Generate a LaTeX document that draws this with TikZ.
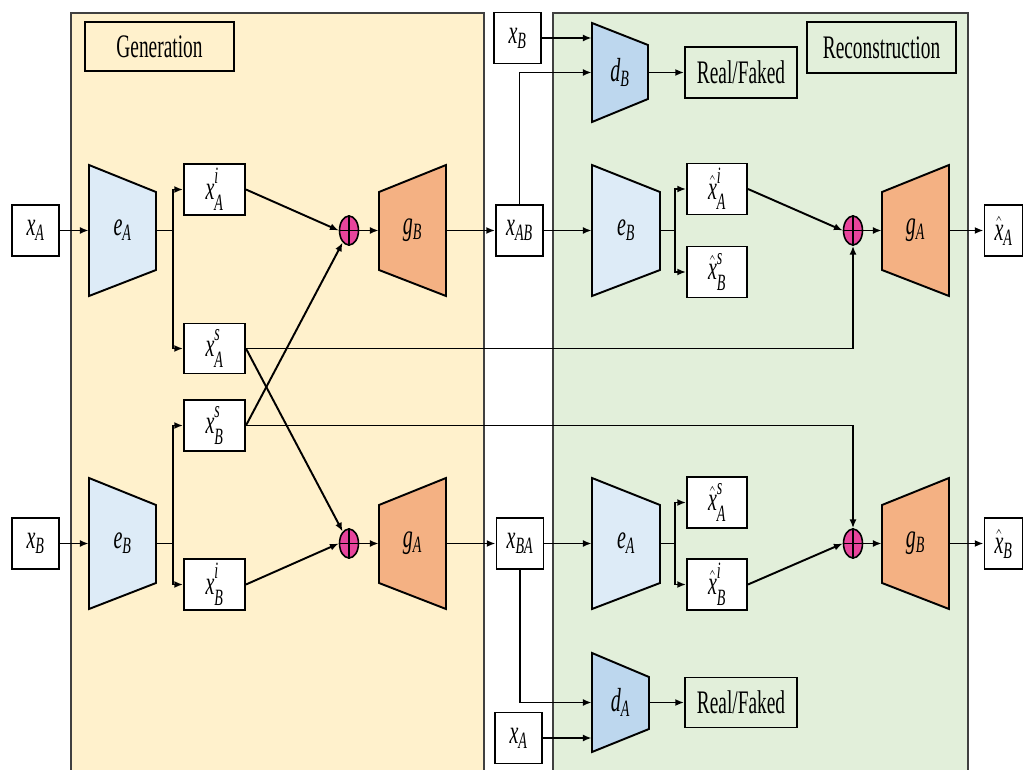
\RequirePackage{fix-cm}
\documentclass[tikz,border=0pt]{standalone}
\usepackage{graphicx}
\usepackage{fontspec}
\setmainfont{Liberation Serif}
\usetikzlibrary{arrows.meta,shapes.geometric,calc}
\newlength\pxl \setlength\pxl{0.02cm}
\newcommand\tx[1]{\scalebox{0.59}[1]{\fontsize{18.7}{20}\selectfont #1}}
\newcommand\mx[1]{\scalebox{0.6}[1]{\fontsize{19}{20}\selectfont $#1$}}
\newcommand\mi[1]{\mathit{#1}}
\newcommand\mysupsub[3]{#1^{\raisebox{2pt}{$\scriptstyle\mi{#2}$}}_{\raisebox{-1.5pt}{$\scriptstyle\mi{#3}$}}}
\definecolor{genc}{HTML}{FFF1CC}
\definecolor{recc}{HTML}{E2EFDA}
\definecolor{encc}{HTML}{DDEBF7}
\definecolor{disc}{HTML}{BDD7EE}
\definecolor{genb}{HTML}{F4B183}
\definecolor{pinkc}{HTML}{E8449C}
\begin{document}
\begin{tikzpicture}[x=0.02cm,y=-0.02cm,
  box/.style={draw, line width=1.1pt, fill=white, inner sep=0pt},
  tbox/.style={draw, line width=1.1pt, inner sep=0pt},
  sw/.style={minimum width=47\pxl, minimum height=51\pxl},
  mw/.style={minimum width=61\pxl, minimum height=51\pxl},
  lbl/.style={inner sep=0pt},
  trap/.style={draw, line width=1.1pt, line join=miter},
  con/.style={line width=1.1pt},
  arr/.style={con, -{Latex[length=5pt,width=4pt]}},
  opl/.style={ellipse, draw, line width=0.9pt, fill=pinkc, minimum width=19\pxl, minimum height=29\pxl, inner sep=0pt},
  panel/.style={draw=black!75, line width=1pt}
]
\clip (0,0) rectangle (1025,770);
\fill[white] (0,0) rectangle (1025,770);
% panels
\draw[panel, fill=genc] (71,13) rectangle (484,790);
\draw[panel, fill=recc] (553,13) rectangle (968,790);
\node[tbox, minimum width=149\pxl, minimum height=49\pxl] (gen) at (159.5,46.5) {\tx{Generation}};
\node[tbox, minimum width=149\pxl, minimum height=51\pxl] (rec) at (881.5,47.5) {\tx{Reconstruction}};
% trapezoids
\filldraw[trap, fill=encc] (89,165) -- (156,192) -- (156,270) -- (89,296) -- cycle;
\node[lbl, minimum width=67\pxl, minimum height=131\pxl] (eA) at (122.5,230.5) {\mx{\mi{e}_{\mi{A}}}};
\filldraw[trap, fill=encc] (89,478) -- (156,505) -- (156,583) -- (89,609) -- cycle;
\node[lbl, minimum width=67\pxl, minimum height=131\pxl] (eB) at (122.5,543.5) {\mx{\mi{e}_{\mi{B}}}};
\filldraw[trap, fill=genb] (379,192) -- (446,165) -- (446,296) -- (379,270) -- cycle;
\node[lbl, minimum width=67\pxl, minimum height=131\pxl] (gB) at (412.5,230.5) {\mx{\mi{g}_{\mi{B}}}};
\filldraw[trap, fill=genb] (379,505) -- (446,478) -- (446,609) -- (379,583) -- cycle;
\node[lbl, minimum width=67\pxl, minimum height=131\pxl] (gA) at (412.5,543.5) {\mx{\mi{g}_{\mi{A}}}};
\filldraw[trap, fill=encc] (592,165) -- (660,192) -- (660,270) -- (592,296) -- cycle;
\node[lbl, minimum width=68\pxl, minimum height=131\pxl] (eB2) at (626,230.5) {\mx{\mi{e}_{\mi{B}}}};
\filldraw[trap, fill=encc] (592,478) -- (660,505) -- (660,583) -- (592,609) -- cycle;
\node[lbl, minimum width=68\pxl, minimum height=131\pxl] (eA2) at (626,543.5) {\mx{\mi{e}_{\mi{A}}}};
\filldraw[trap, fill=genb] (882,192) -- (949,165) -- (949,296) -- (882,270) -- cycle;
\node[lbl, minimum width=67\pxl, minimum height=131\pxl] (gA2) at (915.5,230.5) {\mx{\mi{g}_{\mi{A}}}};
\filldraw[trap, fill=genb] (882,505) -- (949,478) -- (949,609) -- (882,583) -- cycle;
\node[lbl, minimum width=67\pxl, minimum height=131\pxl] (gB2) at (915.5,543.5) {\mx{\mi{g}_{\mi{B}}}};
\filldraw[trap, fill=disc] (592,23) -- (648,45) -- (648,99) -- (592,122) -- cycle;
\node[lbl, minimum width=56\pxl, minimum height=99\pxl] (dB) at (620,72.5) {\mx{\mi{d}_{\mi{B}}}};
\filldraw[trap, fill=disc] (592,653) -- (649,677) -- (649,729) -- (592,752) -- cycle;
\node[lbl, minimum width=57\pxl, minimum height=99\pxl] (dA) at (620.5,702.5) {\mx{\mi{d}_{\mi{A}}}};
% boxes
\node[box, sw] (xA) at (35.5,230.5) {\mx{\mi{x}_{\mi{A}}}};
\node[box, sw] (xBl) at (35.5,543.5) {\mx{\mi{x}_{\mi{B}}}};
\node[box, mw] (xAi) at (214.5,189.5) {\mx{\mysupsub{\mi{x}}{i}{A}}};
\node[box, mw, minimum height=50\pxl] (xAs) at (214.5,348.5) {\mx{\mysupsub{\mi{x}}{s}{A}}};
\node[box, mw] (xBs) at (214.5,425.5) {\mx{\mysupsub{\mi{x}}{s}{B}}};
\node[box, mw] (xBi) at (214.5,584.5) {\mx{\mysupsub{\mi{x}}{i}{B}}};
\node[box, sw] (xAB) at (519.5,230.5) {\mx{\mi{x}_{\mi{AB}}}};
\node[box, sw] (xBt) at (517.5,38) {\mx{\mi{x}_{\mi{B}}}};
\node[box, sw] (xBA) at (520,543.5) {\mx{\mi{x}_{\mi{BA}}}};
\node[box, sw] (xAb) at (518.5,738) {\mx{\mi{x}_{\mi{A}}}};
\node[box, mw, minimum width=60\pxl] (hAi) at (717,189) {\mx{\mysupsub{\hat{\mi{x}}}{i}{A}}};
\node[box, mw, minimum width=60\pxl] (hBs) at (717,272) {\mx{\mysupsub{\hat{\mi{x}}}{s}{B}}};
\node[box, mw, minimum width=60\pxl] (hAs) at (717,502.5) {\mx{\mysupsub{\hat{\mi{x}}}{s}{A}}};
\node[box, mw, minimum width=60\pxl] (hBi) at (717,584.5) {\mx{\mysupsub{\hat{\mi{x}}}{i}{B}}};
\node[box, sw, minimum width=38\pxl] (hA) at (1003.5,230.5) {\mx{\hat{\mi{x}}_{\mi{A}}}};
\node[box, sw, minimum width=38\pxl] (hB) at (1003.5,543.5) {\mx{\hat{\mi{x}}_{\mi{B}}}};
\node[tbox, minimum width=112\pxl, minimum height=51\pxl] (RF1) at (741,72.5) {\tx{Real/Faked}};
\node[tbox, minimum width=112\pxl, minimum height=50\pxl] (RF2) at (741,702.5) {\tx{Real/Faked}};
% oplus
\foreach \n/\px/\py in {o1/349/230.5, o2/349/543.5, o3/853/230.5, o4/853/543.5}{
  \node[opl] (\n) at (\px,\py) {};
  \draw[line width=0.9pt] (\n.north) -- (\n.south) (\n.west) -- (\n.east);
}
% connectors
\draw[arr] (xA.east) -- (eA.west);
\draw[arr] (xBl.east) -- (eB.west);
\coordinate (b1) at (173,230.5);
\coordinate (b2) at (173,543.5);
\coordinate (b3) at (675,230.5);
\coordinate (b4) at (675,543.5);
\draw[con] (eA.east) -- (b1);
\draw[arr] (b1) |- (xAi.west);
\draw[arr] (b1) |- (xAs.west);
\draw[con] (eB.east) -- (b2);
\draw[arr] (b2) |- (xBs.west);
\draw[arr] (b2) |- (xBi.west);
\draw[con] (eB2.east) -- (b3);
\draw[arr] (b3) |- (hAi.west);
\draw[arr] (b3) |- (hBs.west);
\draw[con] (eA2.east) -- (b4);
\draw[arr] (b4) |- (hAs.west);
\draw[arr] (b4) |- (hBi.west);
\draw[arr] (xAi.east) -- (o1.west);
\draw[arr] (xBs.east) -- (o1);
\draw[arr] (xAs.east) -- (o2);
\draw[arr] (xBi.east) -- (o2.west);
\draw[arr] (o1.east) -- (gB.west);
\draw[arr] (o2.east) -- (gA.west);
\draw[arr] (gB.east) -- (xAB.west);
\draw[arr] (gA.east) -- (xBA.west);
\draw[arr] (xAB.east) -- (eB2.west);
\draw[arr] (xBA.east) -- (eA2.west);
\draw[arr] (hAi.east) -- (o3.west);
\draw[arr] (hBi.east) -- (o4.west);
\draw[arr] (xAs.east) -| (o3.south);
\draw[arr] (xBs.east) -| (o4.north);
\draw[arr] (o3.east) -- (gA2.west);
\draw[arr] (o4.east) -- (gB2.west);
\draw[arr] (gA2.east) -- (hA.west);
\draw[arr] (gB2.east) -- (hB.west);
\draw[arr] (xBt.east) -- (xBt.east -| dB.west);
\draw[arr] (xAB.north) |- (dB.west);
\draw[arr] (dB.east) -- (RF1.west);
\draw[arr] (xBA.south) |- (dA.west);
\draw[arr] (xAb.east) -- (xAb.east -| dA.west);
\draw[arr] (dA.east) -- (RF2.west);
\end{tikzpicture}
\end{document}
